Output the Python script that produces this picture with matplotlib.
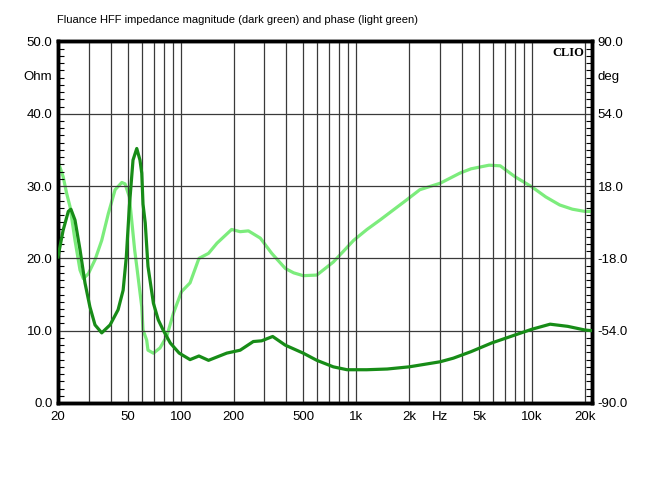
import matplotlib
matplotlib.use("Agg")
import matplotlib.pyplot as plt
from matplotlib.ticker import FixedLocator, NullFormatter, MultipleLocator

plt.rcParams['font.family'] = ['Liberation Sans', 'DejaVu Sans']

# impedance magnitude (Ohm) - dark green
mag_freq = [20, 21.4, 22.9, 23.7, 25, 26.7, 28.5, 30.4, 32.5, 35.5, 39.6, 44, 47,
            49, 51, 53.5, 56.2, 58.6, 60, 61, 62.8, 65.1, 69.9, 74.5, 79.4, 87.2,
            98, 113, 127, 144, 183, 218, 259, 289, 334, 394, 498, 596, 740, 886,
            1146, 1500, 2000, 3000, 3570, 4500, 5900, 8000, 10000, 12700, 16000,
            20000, 22000]
mag_ohm = [20.2, 23.9, 26.5, 26.8, 25.3, 21.2, 16.6, 13.3, 10.8, 9.7, 10.8, 12.9,
           15.6, 20.2, 27.2, 33.6, 35.2, 33.6, 31.8, 27.5, 24.9, 18.9, 13.8, 11.5,
           10.1, 8.3, 6.9, 6.0, 6.5, 5.9, 6.9, 7.3, 8.5, 8.6, 9.2, 8.0, 6.9, 5.9,
           5.0, 4.6, 4.6, 4.7, 5.0, 5.7, 6.2, 7.1, 8.3, 9.4, 10.2, 10.9, 10.6,
           10.1, 10.0]

# impedance phase (deg) - light green
ph_freq = [20, 21.4, 22.4, 23.4, 25, 26.7, 27.9, 29.8, 32.5, 35.5, 38.7, 42.3,
           46.2, 48.2, 51, 54.7, 56.2, 60, 61, 64, 65.1, 69.9, 76.2, 83.2, 90.8,
           101, 113, 127, 144, 161, 195, 218, 243, 284, 330, 394, 440, 498, 596,
           740, 966, 1150, 1364, 1940, 2300, 3000, 3900, 4500, 5700, 6600, 8000,
           10000, 12000, 14400, 17000, 20000, 22000]
ph_deg = [30.2, 22.7, 14.4, 7.9, -9.0, -23.8, -28.1, -25.6, -18.7, -9.0, 4.3,
          16.2, 19.8, 19.1, 12.6, -14.0, -22.0, -42.1, -53.6, -58.7, -63.7,
          -65.2, -62.6, -56.9, -45.4, -34.6, -30.2, -18.0, -15.5, -10.4, -3.6,
          -4.7, -4.3, -7.9, -15.5, -23.0, -25.2, -26.6, -26.3, -19.8, -9.0, -3.6,
          1.1, 11.2, 16.2, 19.4, 24.5, 26.6, 28.4, 28.1, 22.7, 17.6, 12.6, 8.6,
          6.5, 5.4, 5.4]

xticks = [20, 50, 100, 200, 500, 1000, 2000, 3000, 5000, 10000, 20000]
xtick_labels = ['20', '50', '100', '200', '500', '1k', '2k', 'Hz', '5k', '10k', '20k']
grid_x = [f * d for d in (10, 100, 1000, 10000) for f in range(2, 10) if 20 <= f * d <= 20000] + [100, 1000, 10000]

fig = plt.figure(figsize=(6.5, 4.87), dpi=100)
ax = fig.add_axes([0.0892, 0.1725, 0.8216, 0.7423])
ax2 = ax.twinx()

ax.set_xscale('log')
ax.set_xlim(20, 22000)
ax.set_ylim(0, 50)
ax2.set_ylim(-90, 90)

for gx in grid_x:
    ax.axvline(gx, color='#3a3a3a', lw=0.9, zorder=1)
for gy in (10, 20, 30, 40):
    ax.axhline(gy, color='#3a3a3a', lw=0.9, zorder=1)

ax2.plot(ph_freq, ph_deg, color='#7cec7c', lw=2.3, zorder=3, solid_joinstyle='round')
ax.plot(mag_freq, mag_ohm, color='#178c17', lw=2.3, zorder=4, solid_joinstyle='round')
ax.set_zorder(ax2.get_zorder() + 1)
ax.patch.set_visible(False)

ax.xaxis.set_major_locator(FixedLocator(xticks))
ax.set_xticklabels(xtick_labels)
ax.xaxis.set_minor_formatter(NullFormatter())
ax.tick_params(axis='x', which='both', length=0, labelsize=9.5, pad=6)

ax.yaxis.set_major_locator(MultipleLocator(10))
ax.yaxis.set_minor_locator(MultipleLocator(1))
ax.set_yticklabels([f'{v:.1f}' for v in ax.get_yticks()])
ax.tick_params(axis='y', which='major', direction='in', length=0, labelsize=9.5, pad=4)
ax.tick_params(axis='y', which='minor', direction='in', length=4, width=0.8)

ax2.yaxis.set_minor_locator(MultipleLocator(3.6))
ax2.set_yticks([-90, -54, -18, 18, 54, 90])
ax2.set_yticklabels(['-90.0', '-54.0', '-18.0', '18.0', '54.0', '90.0'])
ax2.tick_params(axis='y', which='major', direction='in', length=0, labelsize=9.5, pad=4)
ax2.tick_params(axis='y', which='minor', direction='in', length=4, width=0.8)

for a in (ax, ax2):
    for s in a.spines.values():
        s.set_linewidth(2.5)
        s.set_color('black')

fig.text(57 / 650, 1 - 20 / 487, 'Fluance HFF impedance magnitude (dark green) and phase (light green)',
         fontsize=8, ha='left', va='center')
fig.text(52 / 650, 1 - 77 / 487, 'Ohm', fontsize=9.5, ha='right', va='center')
fig.text(597 / 650, 1 - 77 / 487, 'deg', fontsize=9.5, ha='left', va='center')
ax.text(0.985, 0.985, 'CLIO', transform=ax.transAxes, ha='right', va='top',
        fontsize=9, fontweight='bold', family='Liberation Serif', zorder=6)

fig.savefig('out.png', dpi=100)
